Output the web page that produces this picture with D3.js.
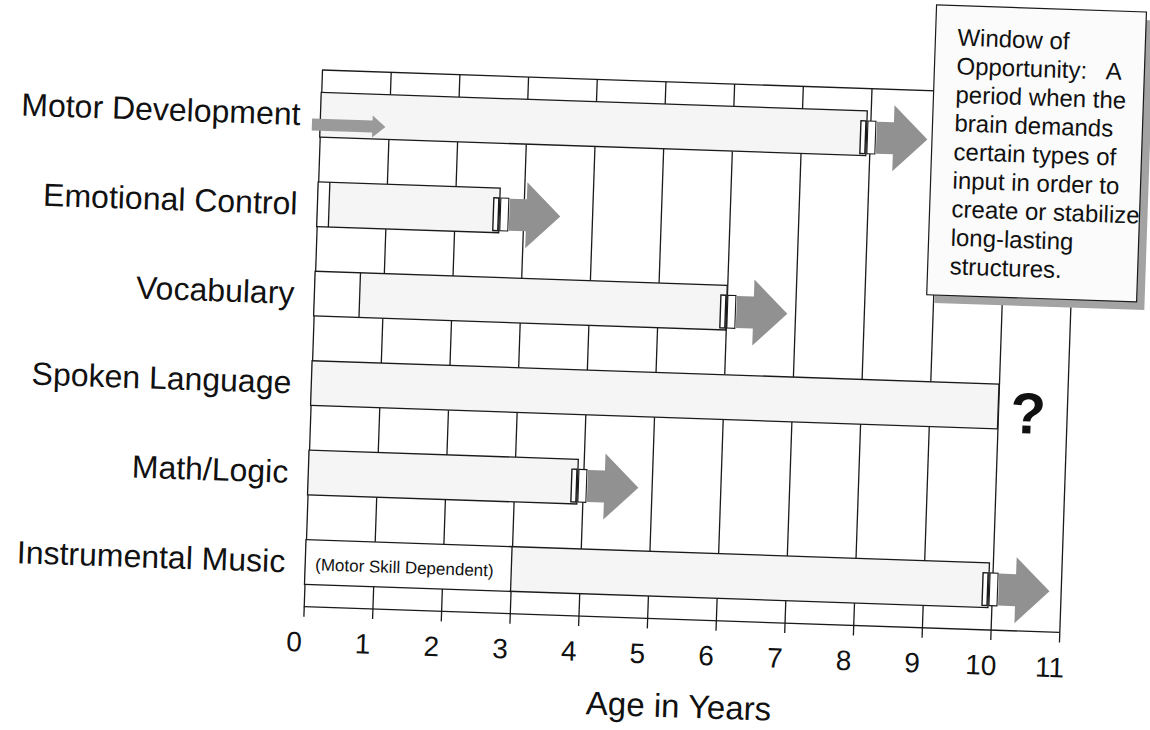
<!DOCTYPE html>
<html>
<head>
<meta charset="utf-8">
<script src="https://cdn.jsdelivr.net/npm/d3@7"></script>
<style>
  body { margin: 0; background: #fff; }
  text { font-family: "Liberation Sans", Arial, sans-serif; fill: #111; }
</style>
</head>
<body>
<div id="chart"></div>
<script>
// data
var skills = ["Motor Development", "Emotional Control", "Vocabulary",
              "Spoken Language", "Math/Logic", "Instrumental Music"];
var windowStart = [null, 0.17, 0.66, null, null, 3.0];   // inner divider (years)
var windowEnd = [7.95, 2.65, 6.0, 10.0, 3.92, 9.95];      // where the bar stops
var hasArrow = [true, true, true, false, true, true];
var ages = [0, 1, 2, 3, 4, 5, 6, 7, 8, 9, 10, 11];
var leadIn = [-0.12, 0.95];                               // small arrow, motor row
var questionAt = 10.44;
var noteLines = ["Window of", "Opportunity:   A", "period when the", "brain demands",
                 "certain types of", "input in order to", "create or stabilize",
                 "long-lasting", "structures."];

var W = 1150, H = 730;
var gw = 756, gh = 537;
var ink = "#1a1a1a";

var svg = d3.select("#chart").append("svg")
  .attr("width", W).attr("height", H);
svg.append("rect").attr("width", W).attr("height", H).attr("fill", "#fff");

// the page was scanned slightly tilted
var g = svg.append("g").attr("transform", "translate(322,70) rotate(1.95)");

var x = d3.scaleLinear().domain([0, 11]).range([0, gw]);
var y = d3.scaleBand().domain(skills).range([0, gh])
  .paddingInner(0.5).paddingOuter(0.25);
var bw = y.bandwidth();

// vertical grid lines + tick labels
var axis = d3.axisBottom(x).tickValues(ages)
  .tickSizeInner(-(gh + 10)).tickSizeOuter(0).tickPadding(15)
  .tickFormat(d3.format("d"));
var ax = g.append("g").attr("transform", "translate(0," + (gh + 10) + ")").call(axis);
ax.select(".domain").remove();
ax.selectAll(".tick line").attr("stroke", ink).attr("stroke-width", 1.3);
ax.selectAll(".tick text")
  .attr("dx", -9)
  .style("font-size", "28px")
  .style("font-family", '"Liberation Sans", Arial, sans-serif')
  .attr("fill", "#111");

// top & bottom border
[0, gh].forEach(function(yy) {
  g.append("line").attr("x1", x(0)).attr("x2", x(11)).attr("y1", yy).attr("y2", yy)
    .attr("stroke", ink).attr("stroke-width", 1.3);
});

// bars
skills.forEach(function(s, i) {
  var top = y(s);
  var e = x(windowEnd[i]);
  var st = windowStart[i] == null ? 0 : x(windowStart[i]);
  g.append("rect").attr("x", x(0)).attr("y", top).attr("width", e - x(0)).attr("height", bw)
    .attr("fill", "#fff");
  g.append("rect").attr("x", st).attr("y", top).attr("width", e - st).attr("height", bw)
    .attr("fill", "#f5f5f5");
  g.append("rect").attr("x", x(0)).attr("y", top).attr("width", e - x(0)).attr("height", bw)
    .attr("fill", "none").attr("stroke", ink).attr("stroke-width", 1.3);
  if (windowStart[i] != null) {
    g.append("line").attr("x1", st).attr("x2", st).attr("y1", top).attr("y2", top + bw)
      .attr("stroke", ink).attr("stroke-width", 1.3);
  }

  // label
  g.append("text").attr("x", -20).attr("y", top + bw / 2 + 11)
    .attr("text-anchor", "end").style("font-size", "32px").text(s);

  if (hasArrow[i]) {
    g.append("rect").attr("x", e - 6).attr("y", top + 10).attr("width", 5).attr("height", bw - 12)
      .attr("fill", "#fff").attr("stroke", ink).attr("stroke-width", 1.4);
    g.append("rect").attr("x", e + 1).attr("y", top + 10).attr("width", 8).attr("height", bw - 12)
      .attr("fill", "#fff").attr("stroke", ink).attr("stroke-width", 1.1);
    var cy = top + bw / 2 + 4;
    var p = d3.path();
    p.moveTo(e + 10, cy - 16);
    p.lineTo(e + 27, cy - 16);
    p.lineTo(e + 27, cy - 33);
    p.lineTo(e + 61, cy);
    p.lineTo(e + 27, cy + 33);
    p.lineTo(e + 27, cy + 16);
    p.lineTo(e + 10, cy + 16);
    p.closePath();
    g.append("path").attr("d", p.toString()).attr("fill", "#919191");
  }
});

// lead-in arrow on the motor row
(function() {
  var cy = y(skills[0]) + bw / 2 + 10;
  var a = x(leadIn[0]), b = x(leadIn[1]);
  var p = d3.path();
  p.moveTo(a, cy - 6);
  p.lineTo(b - 13, cy - 6);
  p.lineTo(b - 13, cy - 11);
  p.lineTo(b, cy);
  p.lineTo(b - 13, cy + 11);
  p.lineTo(b - 13, cy + 6);
  p.lineTo(a, cy + 6);
  p.closePath();
  g.append("path").attr("d", p.toString()).attr("fill", "#9a9a9a");
})();

// note inside instrumental music bar
g.append("text").attr("x", x(0) + 10).attr("y", y(skills[5]) + bw / 2 + 8)
  .style("font-size", "17px").text("(Motor Skill Dependent)");

// question mark after spoken language
g.append("text").attr("x", x(questionAt)).attr("y", y(skills[3]) + bw / 2 + 26)
  .attr("text-anchor", "middle").style("font-size", "58px").style("font-weight", "bold")
  .attr("fill", "#333").text("?");

// axis title
g.append("text").attr("x", x(5.5)).attr("y", gh + 98)
  .attr("text-anchor", "middle").style("font-size", "33px").text("Age in Years");

// "window of opportunity" box
g.append("rect").attr("x", 620).attr("y", -78).attr("width", 210).attr("height", 290)
  .attr("fill", "#a3a3a3");
g.append("rect").attr("x", 612).attr("y", -86).attr("width", 210).attr("height", 290)
  .attr("fill", "#fbfbfb").attr("stroke", ink).attr("stroke-width", 1.2);
g.append("g").selectAll("text").data(noteLines).join("text")
  .attr("x", 634).attr("y", function(d, i) { return -46 + i * 28.6; })
  .style("font-size", "24px").style("white-space", "pre")
  .text(function(d) { return d; });
</script>
</body>
</html>
